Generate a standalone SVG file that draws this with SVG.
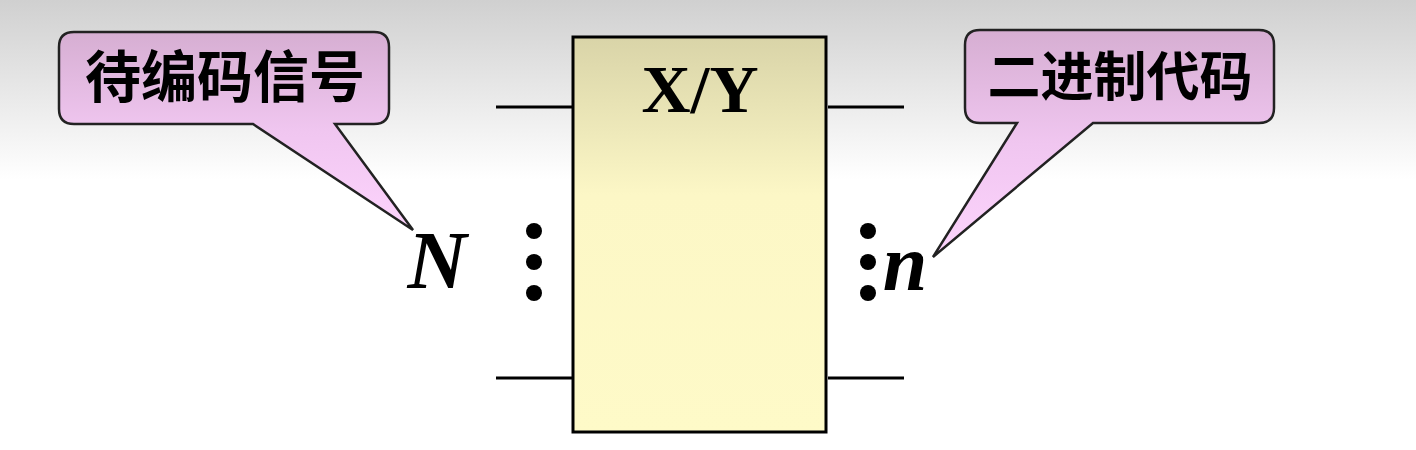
<svg xmlns="http://www.w3.org/2000/svg" width="1416" height="450" viewBox="0 0 1416 450">
<style>
.wire{stroke:#000;stroke-width:3;fill:none}
.callout{stroke:#222;stroke-width:2.5;fill:url(#pink)}
.cjk{font-family:"Noto Sans CJK SC","Noto Sans",sans-serif;font-weight:bold;fill:#000}
.serif{font-family:"Liberation Serif","Times New Roman",serif;font-weight:bold;fill:#000}
.dot{fill:#000}
</style>
<defs>
<linearGradient id="bg" x1="0" y1="0" x2="0" y2="450" gradientUnits="userSpaceOnUse">
<stop offset="0" stop-color="#d0d0d0"/>
<stop offset="0.4" stop-color="#ffffff"/>
<stop offset="1" stop-color="#ffffff"/>
</linearGradient>
<linearGradient id="pink" x1="0" y1="0" x2="0" y2="1">
<stop offset="0" stop-color="#d6aed2"/>
<stop offset="0.5" stop-color="#f0c6f0"/>
<stop offset="1" stop-color="#fdd4fd"/>
</linearGradient>
<linearGradient id="yellow" x1="0" y1="0" x2="0" y2="1">
<stop offset="0" stop-color="#d9d4a8"/>
<stop offset="0.4" stop-color="#fcf7c6"/>
<stop offset="1" stop-color="#fefac8"/>
</linearGradient>
</defs>
<rect width="1416" height="450" fill="url(#bg)"/>
<g id="connectors">
<line class="wire" x1="496" y1="107" x2="572" y2="107"/>
<line class="wire" x1="496" y1="378" x2="572" y2="378"/>
<line class="wire" x1="828" y1="107" x2="904" y2="107"/>
<line class="wire" x1="828" y1="378" x2="904" y2="378"/>
</g>
<g id="encoder">
<rect x="573" y="37" width="253" height="395" fill="url(#yellow)" stroke="#000" stroke-width="3"/>
<text class="serif" x="700" y="112" font-size="68" text-anchor="middle">X/Y</text>
</g>
<g id="inputs">
<text class="serif" x="437" y="288" font-size="82" font-style="italic" font-weight="normal" text-anchor="middle">N</text>
<circle class="dot" cx="534" cy="231" r="8"/>
<circle class="dot" cx="534" cy="262" r="8"/>
<circle class="dot" cx="534" cy="293" r="8"/>
</g>
<g id="outputs">
<circle class="dot" cx="868" cy="231" r="8"/>
<circle class="dot" cx="868" cy="262" r="8"/>
<circle class="dot" cx="868" cy="293" r="8"/>
<text class="serif" x="905" y="290" font-size="80" font-style="italic" text-anchor="middle">n</text>
</g>
<g id="callout-left">
<path class="callout" d="M74,32 H374 Q389,32 389,47 V109 Q389,124 374,124 H335 L413,230 L253,124 H74 Q59,124 59,109 V47 Q59,32 74,32 Z"/>
<text class="cjk" x="225" y="97" font-size="56" text-anchor="middle">待编码信号</text>
</g>
<g id="callout-right">
<path class="callout" d="M980,30 H1259 Q1274,30 1274,45 V108 Q1274,123 1259,123 H1093 L933,257 L1017,123 H980 Q965,123 965,108 V45 Q965,30 980,30 Z"/>
<text class="cjk" x="1120" y="96" font-size="53" text-anchor="middle">二进制代码</text>
</g>
</svg>
